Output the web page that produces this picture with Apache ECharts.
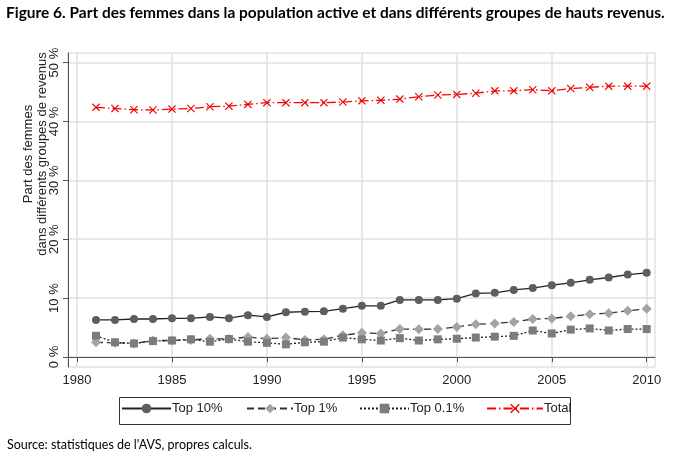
<!DOCTYPE html>
<html><head><meta charset="utf-8">
<script src="https://cdn.jsdelivr.net/npm/echarts@6/dist/echarts.min.js"></script>
<style>html,body{margin:0;padding:0;background:#fff}#c{width:673px;height:459px}</style>
</head><body><div id="c"></div>
<script>
const years = [1981,1982,1983,1984,1985,1986,1987,1988,1989,1990,1991,1992,1993,1994,1995,1996,1997,1998,1999,2000,2001,2002,2003,2004,2005,2006,2007,2008,2009,2010];
const top10 = [6.3,6.3,6.45,6.45,6.57,6.57,6.8,6.6,7.1,6.8,7.6,7.7,7.75,8.2,8.7,8.7,9.7,9.7,9.7,9.9,10.8,10.9,11.4,11.7,12.2,12.6,13.1,13.5,14.0,14.3];
const top1 = [2.5,2.4,2.3,2.8,2.8,2.9,3.1,3.05,3.4,3.1,3.3,2.9,3.0,3.7,4.1,4.0,4.75,4.7,4.75,5.1,5.55,5.7,5.95,6.45,6.55,6.9,7.25,7.45,7.85,8.2];
const top01 = [3.6,2.5,2.3,2.7,2.8,3.0,2.6,3.05,2.6,2.4,2.15,2.5,2.6,3.3,3.0,2.8,3.2,2.8,3.0,3.1,3.3,3.45,3.6,4.5,4.0,4.65,4.85,4.5,4.75,4.75];
const total = [42.4,42.2,42.0,41.95,42.1,42.2,42.5,42.6,42.9,43.2,43.2,43.2,43.2,43.3,43.5,43.6,43.8,44.2,44.5,44.6,44.8,45.2,45.2,45.4,45.2,45.6,45.8,46.0,46.0,46.0];
const xTicks = [1980,1985,1990,1995,2000,2005,2010];
const yTicks = [0,10,20,30,40,50];
const names = ['Top 10%','Top 1%','Top 0.1%','Total'];
const titleText = 'Figure 6. Part des femmes dans la population active et dans différents groupes de hauts revenus.';
const sourceText = "Source: statistiques de l'AVS, propres calculs.";
const yTitle = 'Part des femmes\ndans différents groupes de revenus';

function fit(text, font, base, target){
  const c=document.createElement('canvas').getContext('2d');
  c.font = font.replace('{s}', base+'px');
  const w=c.measureText(text).width;
  return base*target/w;
}
const titleSize = fit(titleText, 'bold {s} Lato', 14, 659);
const srcSize = fit(sourceText, '{s} Lato', 12, 245);

const pairs = arr => years.map((y,i)=>[y,arr[i]]);
const FONT = 'Liberation Sans';
const xSymbol = 'path://M0,1 L1,0 L5,4 L9,0 L10,1 L6,5 L10,9 L9,10 L5,6 L1,10 L0,9 L4,5 Z';

const chart = echarts.init(document.getElementById('c'), null, {renderer:'canvas'});
const legendLefts = [121,246,359,486];
const legendWidths = [49,46,49,56];
chart.setOption({
  animation:false,
  backgroundColor:'#fff',
  title:{text:titleText,left:6,top:6,padding:0,textStyle:{fontFamily:'Lato',fontWeight:'bold',fontSize:titleSize,color:'#000'}},
  grid:{left:68,right:18,top:53,bottom:92,show:true,borderColor:'#d4d4d4',borderWidth:1,backgroundColor:'transparent'},
  xAxis:{type:'value',min:1979.526,max:2010.437,
    axisLine:{show:true,lineStyle:{color:'#555',width:1}},
    axisTick:{show:true,length:5,customValues:xTicks,lineStyle:{color:'#555'}},
    axisLabel:{customValues:xTicks,margin:7,fontFamily:FONT,fontSize:13,color:'#222',formatter:v=>String(v)},
    splitLine:{show:true,lineStyle:{color:'#e0e0e0',width:1.5}}},
  yAxis:{type:'value',min:-1.698,max:51.63,
    axisLine:{show:true,lineStyle:{color:'#555',width:1}},
    axisTick:{show:true,length:5,customValues:yTicks,lineStyle:{color:'#555'}},
    axisLabel:{customValues:yTicks,rotate:90,margin:7,fontFamily:FONT,fontSize:13,color:'#222',formatter:v=>v+' %'},
    splitLine:{show:true,lineStyle:{color:'#e0e0e0',width:1.5}}},
  legend:names.map((n,i)=>({data:[n],left:legendLefts[i],top:402,padding:0,itemWidth:legendWidths[i],itemHeight:12,itemGap:0,
    textStyle:{fontFamily:FONT,fontSize:13,color:'#222',padding:[0,0,0,-4]}})),
  graphic:[
    {type:'rect',shape:{x:119.5,y:397.5,width:451,height:27},style:{fill:'none',stroke:'#333',lineWidth:1},z:-1},
    {type:'text',x:35,y:154,rotation:Math.PI/2,style:{text:yTitle,font:'13px "Liberation Sans"',fill:'#222',align:'center',verticalAlign:'middle',lineHeight:14}},
    {type:'text',left:7,top:438,style:{text:sourceText,font:srcSize.toFixed(2)+'px Lato',fill:'#000'}}
  ],
  series:[
    {name:names[0],type:'line',data:pairs(top10),symbol:'circle',symbolSize:8,
      lineStyle:{color:'#222',width:1.3,type:'solid'},itemStyle:{color:'#5e5e5e'}},
    {name:names[1],type:'line',data:pairs(top1),symbol:'diamond',symbolSize:10,
      lineStyle:{color:'#333',width:1.3,type:[7,4]},itemStyle:{color:'#a3a3a3'}},
    {name:names[2],type:'line',data:pairs(top01),symbol:'rect',symbolSize:8,
      lineStyle:{color:'#222',width:1.3,type:[2,2]},itemStyle:{color:'#7c7c7c'}},
    {name:names[3],type:'line',data:pairs(total),symbol:xSymbol,symbolSize:8,
      lineStyle:{color:'#ff0000',width:1.3,type:[9,3,1.5,3]},itemStyle:{color:'#ee0000'}}
  ]
});
</script></body></html>
